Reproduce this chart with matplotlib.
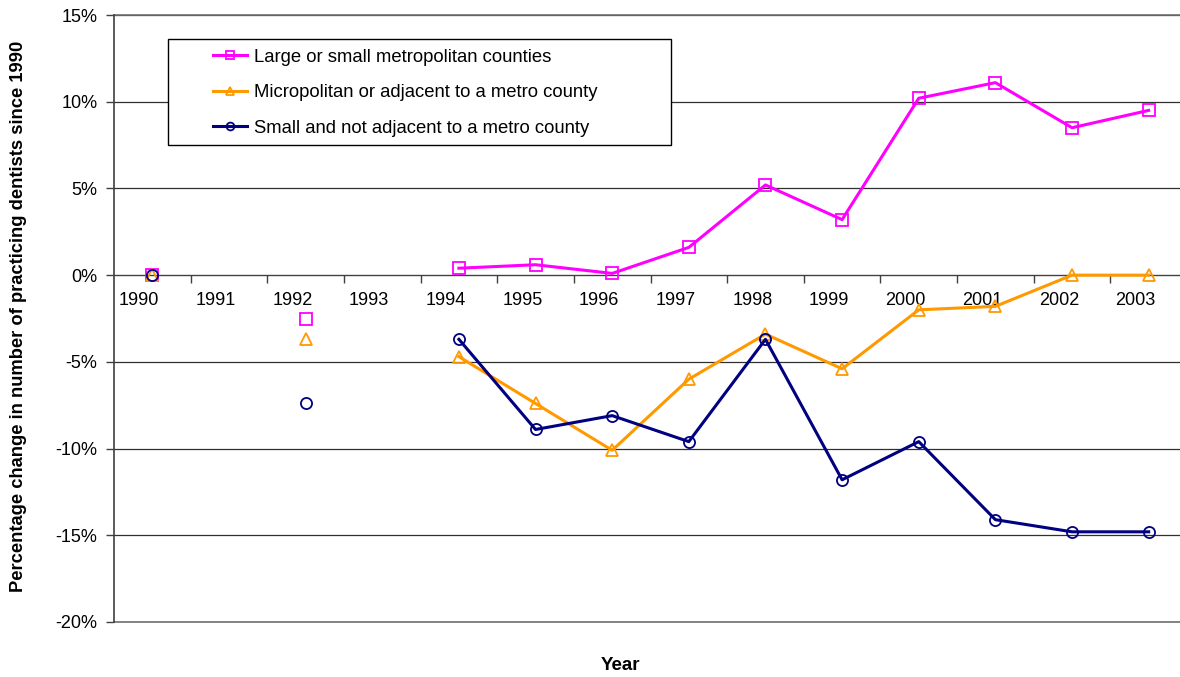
import matplotlib
matplotlib.use("Agg")
import matplotlib.pyplot as plt
from matplotlib.patches import Rectangle
from matplotlib.ticker import FixedLocator, FuncFormatter
import numpy as np

plt.rcParams['font.family'] = ['Liberation Sans', 'DejaVu Sans']

# Percentage change in practicing dentists since 1990 (nan = no data that year)
years = ["1990", "1991", "1992", "1993", "1994", "1995", "1996",
         "1997", "1998", "1999", "2000", "2001", "2002", "2003"]
nan = np.nan
metro = [0.0, nan, -2.5, nan, 0.4, 0.6, 0.1, 1.6, 5.2, 3.2, 10.2, 11.1, 8.5, 9.5]
micro = [0.0, nan, -3.7, nan, -4.7, -7.4, -10.1, -6.0, -3.4, -5.4, -2.0, -1.8, 0.0, 0.0]
small = [0.0, nan, -7.4, nan, -3.7, -8.9, -8.1, -9.6, -3.7, -11.8, -9.6, -14.1, -14.8, -14.8]

labels = ["Large or small metropolitan counties",
          "Micropolitan or adjacent to a metro county",
          "Small and not adjacent to a metro county"]
colors = ["#FF00FF", "#FF9900", "#000080"]
markers = ["s", "^", "o"]

fig = plt.figure(figsize=(11.8, 6.77), dpi=100)
ax = fig.add_axes([114 / 1180, 1 - 622 / 677, (1187 - 114) / 1180, (622 - 15) / 677])

x = np.arange(len(years))
handles = []
for vals, lab, c, m in zip([metro, micro, small], labels, colors, markers):
    h, = ax.plot(x, vals, color=c, lw=2.2, marker=m, markersize=8,
                 markerfacecolor="none", markeredgecolor=c, markeredgewidth=1.3,
                 label=lab, zorder=3)
    handles.append(h)

ax.set_xlim(-0.5, len(years) - 0.5)
ax.set_ylim(-20, 15)

# y axis: percent ticks with horizontal gridlines
ax.set_yticks(np.arange(-20, 16, 5))
ax.yaxis.set_major_formatter(FuncFormatter(lambda v, p: f"{v:.0f}%"))
ax.yaxis.grid(True, color="#303030", lw=0.9)
ax.axhline(-20, color="#707070", lw=1.2, clip_on=False, zorder=2)
ax.axhline(15, color="#707070", lw=1.2, clip_on=False, zorder=2)
ax.tick_params(axis="y", direction="out", length=6, width=1, color="#404040",
               labelsize=13, pad=6)

# category axis sits on the 0% line; ticks between categories
for s in ["top", "right"]:
    ax.spines[s].set_visible(False)
ax.spines["bottom"].set_position(("data", 0))
ax.spines["bottom"].set_color("#404040")
ax.spines["left"].set_color("#404040")
ax.spines["left"].set_linewidth(1.2)
ax.xaxis.set_major_locator(FixedLocator(x[:-1] + 0.5))
ax.xaxis.set_major_formatter(FuncFormatter(lambda v, p: ""))
ax.xaxis.set_minor_locator(FixedLocator(x - 0.17))
ax.xaxis.set_minor_formatter(FuncFormatter(lambda v, p: years[int(round(v + 0.17))]))
ax.tick_params(axis="x", which="major", direction="out", length=6, width=1, color="#404040")
ax.tick_params(axis="x", which="minor", length=0, labelsize=13, pad=12)

fig.text(19 / 1180, 1 - 316 / 677,
         "Percentage change in number of practicing dentists since 1990",
         rotation=90, ha="center", va="center", fontsize=13.2, fontweight="bold")
fig.text(620 / 1180, 1 - 666 / 677, "Year", ha="center", va="center",
         fontsize=13.5, fontweight="bold")

# legend box
fig.patches.append(Rectangle((168 / 1180, 1 - 145 / 677), (671 - 168) / 1180, (145 - 39) / 677,
                             transform=fig.transFigure, facecolor="white",
                             edgecolor="black", lw=1, zorder=4))
leg = fig.legend(handles=handles, loc="upper left",
                 bbox_to_anchor=(196 / 1180, 1 - 32 / 677), frameon=False,
                 fontsize=13.3, handlelength=1.85, handletextpad=0.4,
                 labelspacing=1.0, markerscale=0.7)
leg.set_zorder(5)

fig.savefig("out.png", dpi=100)
